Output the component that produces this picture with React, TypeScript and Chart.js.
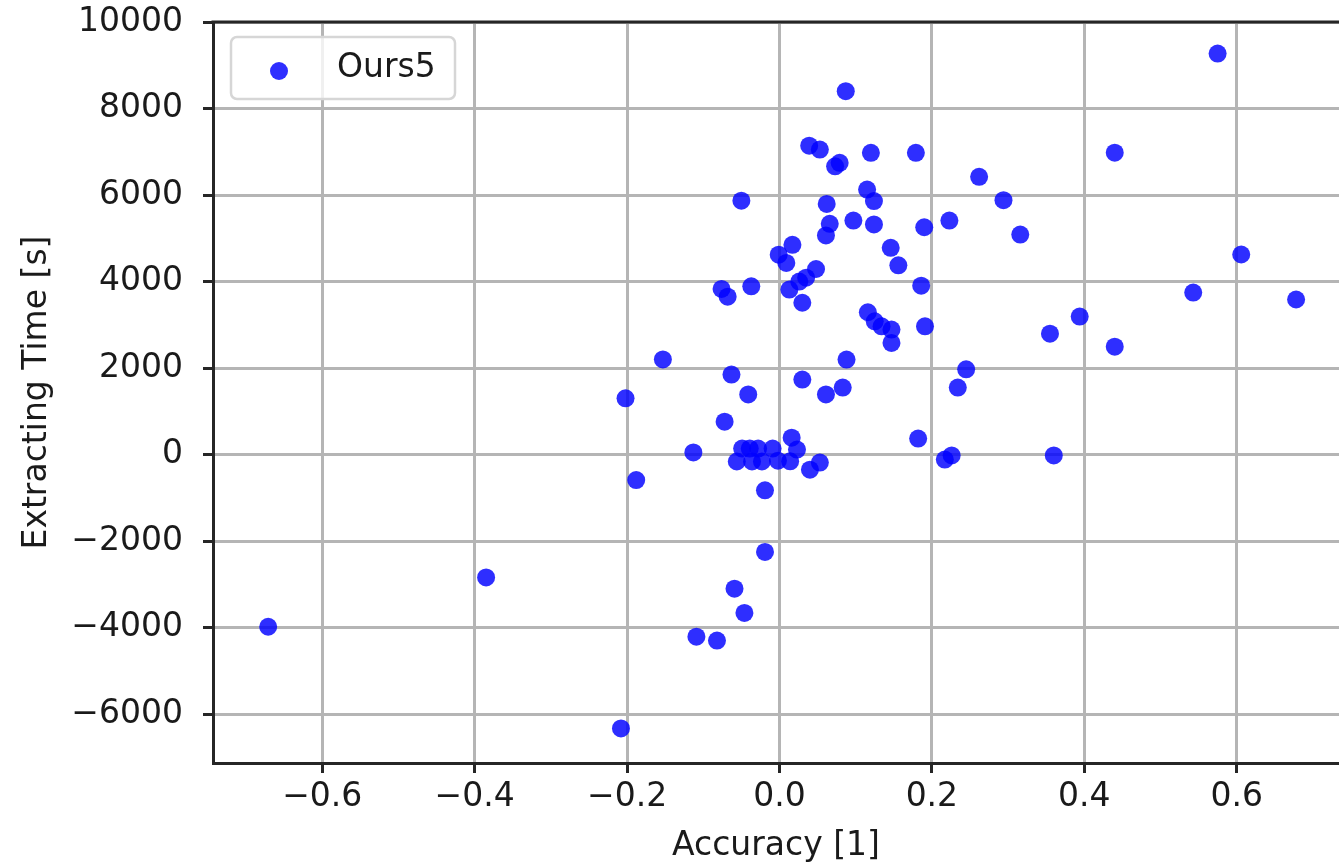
import React, { useEffect, useRef } from "react";
import { Chart, registerables } from "chart.js";

Chart.register(...registerables);

// ---- data ----
const seriesLabel = "Ours5";
const accuracy: number[] = [
  -0.671, -0.385, -0.208, -0.202, -0.188, -0.153, -0.113, -0.109, -0.082, -0.059,
  -0.046, -0.019, -0.019, -0.072, -0.063, -0.041, -0.076, -0.068, -0.037, -0.050,
  -0.001, 0.009, 0.017, 0.048, 0.013, 0.026, 0.035, 0.030, 0.039, 0.053,
  0.073, 0.079, 0.120, 0.179, 0.262, 0.115, 0.124, 0.062, 0.066, 0.061,
  0.097, 0.124, 0.190, 0.223, 0.146, 0.156, 0.186, 0.116, 0.125, 0.134,
  0.147, 0.147, 0.191, 0.088, 0.030, 0.245, 0.234, 0.083, 0.061, 0.087,
  0.575, 0.440, 0.294, 0.316, 0.606, 0.543, 0.678, 0.394, 0.355, 0.440,
  0.360, 0.182, 0.217, 0.226,
  -0.056, -0.049, -0.039, -0.036, -0.028, -0.023, -0.009, -0.002, 0.016, 0.014,
  0.023, 0.040, 0.053,
];
const extractingTime: number[] = [
  -3980, -2840, -6330, 1300, -590, 2200, 50, -4210, -4300, -3100,
  -3660, -2250, -825, 760, 1850, 1390, 3830, 3650, 3890, 5870,
  4620, 4430, 4850, 4290, 3815, 4000, 4090, 3510, 7140, 7050,
  6665, 6745, 6975, 6975, 6420, 6125, 5860, 5795, 5335, 5065,
  5410, 5320, 5255, 5410, 4780, 4375, 3905, 3290, 3080, 2965,
  2890, 2580, 2965, 2195, 1735, 1970, 1550, 1550, 1390, 8400,
  9270, 6980, 5880, 5085, 4625, 3745, 3585, 3190, 2795, 2495,
  -20, 370, -115, -20,
  -160, 140, 140, -160, 140, -160, 140, -140, 390, -155,
  115, -350, -185,
];
const xTickValues: number[] = [-0.6, -0.4, -0.2, 0.0, 0.2, 0.4, 0.6];
const yTickValues: number[] = [-6000, -4000, -2000, 0, 2000, 4000, 6000, 8000, 10000];
const xRange = [-0.7434, 0.7343];
const yRange = [-7130, 10000];
const xTitle = "Accuracy [1]";
const yTitle = "Extracting Time [s]";

const POINT_COLOR = "rgba(0,0,255,0.82)";
const TEXT_COLOR = "#1a1a1a";
const SPINE_COLOR = "#262626";
const GRID_COLOR = "#b5b5b5";
const FONT_FAMILY = '"DejaVu Sans", sans-serif';
const FONT_SIZE = 33;

const minusFix = (s: string) => s.replace("-", "\u2212");

const framePlugin = {
  id: "frameAndLegend",
  afterDraw(chart: any) {
    const { ctx, chartArea } = chart;
    ctx.save();
    // top spine
    ctx.strokeStyle = SPINE_COLOR;
    ctx.lineWidth = 3;
    ctx.beginPath();
    ctx.moveTo(chartArea.left - 1.5, chartArea.top);
    ctx.lineTo(chartArea.right, chartArea.top);
    ctx.stroke();
    // legend box
    const x0 = chartArea.left + 18;
    const y0 = chartArea.top + 15;
    const w = 224;
    const h = 62;
    ctx.beginPath();
    if ((ctx as any).roundRect) ctx.roundRect(x0, y0, w, h, 6);
    else ctx.rect(x0, y0, w, h);
    ctx.fillStyle = "rgba(255,255,255,0.8)";
    ctx.fill();
    ctx.strokeStyle = "#d6d6d6";
    ctx.lineWidth = 2.5;
    ctx.stroke();
    ctx.beginPath();
    ctx.arc(x0 + 48, y0 + 34, 9, 0, Math.PI * 2);
    ctx.fillStyle = POINT_COLOR;
    ctx.fill();
    ctx.fillStyle = TEXT_COLOR;
    ctx.font = `${FONT_SIZE}px ${FONT_FAMILY}`;
    ctx.textBaseline = "middle";
    ctx.textAlign = "left";
    ctx.fillText(chart.data.datasets[0].label, x0 + 106, y0 + 31);
    ctx.restore();
  },
};

export default function App() {
  const canvasRef = useRef<HTMLCanvasElement | null>(null);

  useEffect(() => {
    if (!canvasRef.current) return;
    const points = accuracy.map((a, i) => ({ x: a, y: extractingTime[i] }));
    const font = { family: FONT_FAMILY, size: FONT_SIZE };
    const chart = new Chart(canvasRef.current, {
      type: "scatter",
      data: {
        datasets: [
          {
            label: seriesLabel,
            data: points,
            backgroundColor: POINT_COLOR,
            borderWidth: 0,
            pointRadius: 9,
            pointHoverRadius: 9,
          },
        ],
      },
      options: {
        animation: false,
        responsive: false,
        devicePixelRatio: 1,
        layout: { autoPadding: false, padding: { top: 22, right: 0, left: 0, bottom: 0 } },
        plugins: {
          legend: { display: false },
          tooltip: { enabled: false },
        },
        scales: {
          x: {
            type: "linear",
            z: 1,
            min: xRange[0],
            max: xRange[1],
            afterBuildTicks: (s: any) => {
              s.ticks = xTickValues.map((v) => ({ value: v }));
            },
            afterFit: (s: any) => {
              s.height = 104;
              s.paddingLeft = 0;
              s.paddingRight = 0;
            },
            ticks: {
              color: TEXT_COLOR,
              font,
              padding: 5,
              maxRotation: 0,
              autoSkip: false,
              callback: (v: any) => minusFix(Number(v).toFixed(1)),
            },
            grid: {
              color: GRID_COLOR,
              lineWidth: 3,
              tickLength: 10,
              tickColor: SPINE_COLOR,
              tickWidth: 3,
            },
            border: { display: true, color: SPINE_COLOR, width: 3 },
            title: {
              display: true,
              text: xTitle,
              color: TEXT_COLOR,
              font,
              padding: { top: 0, bottom: 1 },
            },
          },
          y: {
            type: "linear",
            z: 1,
            min: yRange[0],
            max: yRange[1],
            afterBuildTicks: (s: any) => {
              s.ticks = yTickValues.map((v) => ({ value: v }));
            },
            afterFit: (s: any) => {
              s.width = 213;
              s.paddingTop = 0;
              s.paddingBottom = 0;
            },
            ticks: {
              color: TEXT_COLOR,
              font,
              padding: 20,
              autoSkip: false,
              callback: (v: any) => minusFix(String(Math.round(Number(v)))),
            },
            grid: {
              color: GRID_COLOR,
              lineWidth: 3,
              tickLength: 10,
              tickColor: SPINE_COLOR,
              tickWidth: 3,
            },
            border: { display: true, color: SPINE_COLOR, width: 3 },
            title: {
              display: true,
              text: yTitle,
              color: TEXT_COLOR,
              font,
              padding: { top: 18, bottom: 0 },
            },
          },
        },
      },
      plugins: [framePlugin],
    } as any);
    return () => chart.destroy();
  }, []);

  return (
    <div style={{ position: "absolute", left: 0, top: 0, width: 1339, height: 867, background: "#fff" }}>
      <canvas ref={canvasRef} width={1339} height={867} style={{ display: "block" }} />
    </div>
  );
}
